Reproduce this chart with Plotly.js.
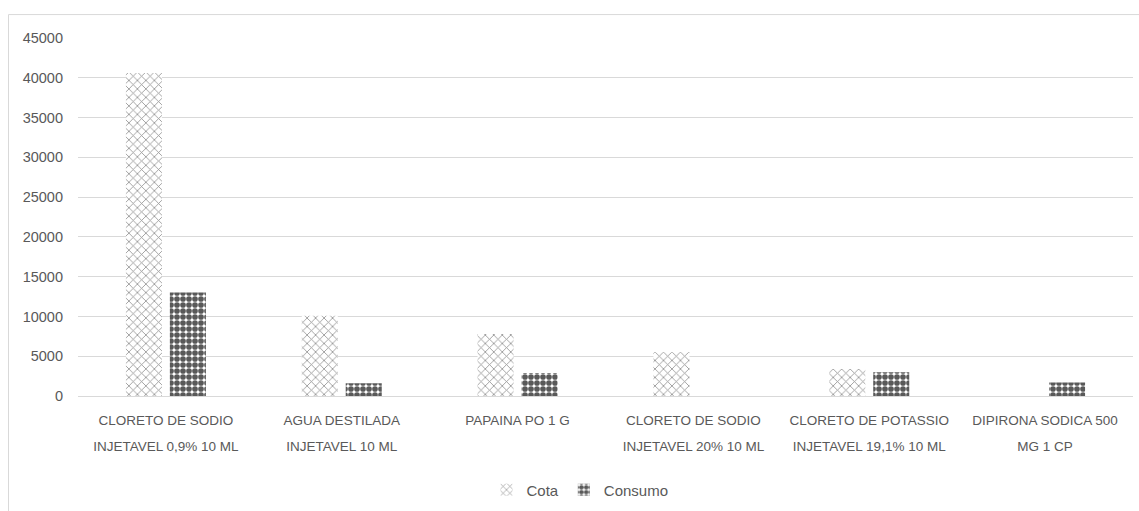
<!DOCTYPE html>
<html>
<head>
<meta charset="utf-8">
<script src="https://cdn.plot.ly/plotly-3.0.1.min.js"></script>
<style>
  html, body { margin: 0; padding: 0; background: #ffffff; overflow: hidden; }
  #chart { width: 1139px; height: 511px; }
</style>
</head>
<body>
<div id="chart"></div>
<script>
// ---- data ----
const categories = [
  "CLORETO DE SODIO<br>INJETAVEL 0,9% 10 ML",
  "AGUA DESTILADA<br>INJETAVEL 10 ML",
  "PAPAINA PO 1 G",
  "CLORETO DE SODIO<br>INJETAVEL 20% 10 ML",
  "CLORETO DE POTASSIO<br>INJETAVEL 19,1% 10 ML",
  "DIPIRONA SODICA 500<br>MG 1 CP"
];
const cota    = [40600, 10100, 7800, 5500, 3400, 0];
const consumo = [13000, 1600, 2900, 0, 3000, 1700];
const yTicks  = [0, 5000, 10000, 15000, 20000, 25000, 30000, 35000, 40000, 45000];

// ---- drawing ----
const textColor = "#595959";
const gridColor = "#d9d9d9";
const fontFamily = "'Liberation Sans', Arial, sans-serif";
const labelPx = 13.5;

const wrapLabel = s => s.split("<br>")
  .map(part => `<span style="font-size:${labelPx}px">${part}</span>`)
  .join("<br>");

const traces = [
  {
    type: "bar",
    name: "Cota",
    x: categories,
    y: cota,
    marker: {
      color: "#ffffff",
      line: { width: 0 },
      pattern: { shape: "x", fgcolor: "#8f8f8f", bgcolor: "#ffffff", size: 6, solidity: 0.25, fillmode: "replace" }
    },
    hoverinfo: "skip"
  },
  {
    type: "bar",
    name: "Consumo",
    x: categories,
    y: consumo,
    marker: {
      color: "#595959",
      line: { width: 0 },
      pattern: { shape: ".", fgcolor: "#595959", bgcolor: "#ffffff", size: 6, solidity: 0.7, fillmode: "replace" }
    },
    hoverinfo: "skip"
  }
];

const L = 78, R = 6, T = 38, B = 114;
const W = 1139, H = 511;
const pw = W - L - R, ph = H - T - B;
const px2x = p => (p - L) / pw;
const py2y = p => (H - B - p) / ph;

const layout = {
  width: W,
  height: H,
  margin: { l: L, r: R, t: T, b: B, pad: 0 },
  paper_bgcolor: "rgba(0,0,0,0)",
  plot_bgcolor: "rgba(0,0,0,0)",
  font: { family: fontFamily, color: textColor, size: 14 },
  barmode: "group",
  bargap: 0.5,
  bargroupgap: 0.18,
  showlegend: true,
  legend: {
    orientation: "h",
    x: px2x(580),
    xanchor: "center",
    y: py2y(490),
    yanchor: "middle",
    font: { family: fontFamily, size: 15, color: textColor },
    itemwidth: 30,
    bgcolor: "rgba(0,0,0,0)"
  },
  xaxis: {
    type: "category",
    tickmode: "array",
    tickvals: categories,
    ticktext: categories.map(wrapLabel),
    tickfont: { family: fontFamily, size: 20.5, color: textColor },
    showgrid: false,
    showline: false,
    zeroline: false,
    ticks: "",
    ticklabelstandoff: 7,
    fixedrange: true
  },
  yaxis: {
    range: [0, 45000],
    tickmode: "array",
    tickvals: yTicks,
    ticktext: yTicks.map(String),
    tickfont: { family: fontFamily, size: 14.5, color: textColor },
    showgrid: true,
    gridcolor: gridColor,
    gridwidth: 1,
    zeroline: true,
    zerolinecolor: gridColor,
    zerolinewidth: 1,
    showline: false,
    ticks: "",
    ticklabelstandoff: 14,
    fixedrange: true
  },
  shapes: [
    { type: "line", xref: "paper", yref: "paper", x0: px2x(8.5), x1: px2x(1200), y0: py2y(14.5), y1: py2y(14.5),
      line: { color: gridColor, width: 1 }, layer: "below" },
    { type: "line", xref: "paper", yref: "paper", x0: px2x(8.5), x1: px2x(8.5), y0: py2y(14.5), y1: py2y(600),
      line: { color: gridColor, width: 1 }, layer: "below" }
  ]
};

Plotly.newPlot("chart", traces, layout, { displayModeBar: false, staticPlot: true });
</script>
</body>
</html>
